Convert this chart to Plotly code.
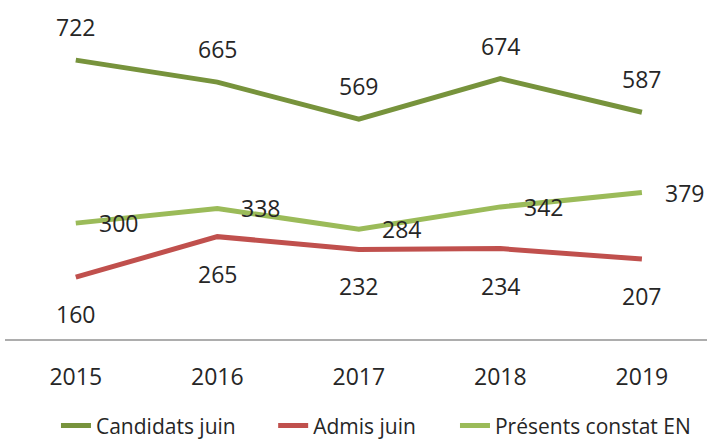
import plotly.graph_objects as go

# Données
annees = ['2015', '2016', '2017', '2018', '2019']
candidats_juin = [722, 665, 569, 674, 587]
admis_juin = [160, 265, 232, 234, 207]
presents_constat = [300, 338, 284, 342, 379]

COLOR_CANDIDATS = '#77933C'
COLOR_ADMIS = '#C0504D'
COLOR_PRESENTS = '#9BBB59'
FONT = 'Open Sans'

# positions numériques des catégories (évite l'axe linéaire auto sur "2015"...)
pos = list(range(len(annees)))

fig = go.Figure()

# nom, valeurs, couleur, décalage étiquette (x, y), légende, position x légende
series = [
    ('Candidats juin', candidats_juin, COLOR_CANDIDATS, 0, 33, 'legend', 0.0726),
    ('Admis juin', admis_juin, COLOR_ADMIS, 0, -37, 'legend2', 0.382),
    ('Présents constat EN', presents_constat, COLOR_PRESENTS, 43, 0, 'legend3', 0.641),
]

legend_style = dict(
    orientation='h', yref='container', y=0.03, yanchor='middle', xanchor='left',
    bgcolor='rgba(0,0,0,0)',
    font=dict(family=FONT, size=21, color='#262626'),
)

for name, values, color, dx, dy, leg, lx in series:
    fig.add_trace(go.Scatter(
        x=pos, y=values, name=name, mode='lines',
        line=dict(color=color, width=5), legend=leg,
    ))
    fig.update_layout({leg: dict(legend_style, x=lx)})
    # étiquettes de données
    for p, v in zip(pos, values):
        fig.add_annotation(
            x=p, y=v, xref='x', yref='y', text=str(v), showarrow=False,
            xshift=dx, yshift=dy,
            font=dict(family=FONT, size=23, color='#262626'),
        )

fig.update_layout(
    width=707, height=439,
    margin=dict(l=5, r=0, t=30, b=100),
    plot_bgcolor='white', paper_bgcolor='white',
    showlegend=True,
    xaxis=dict(
        range=[-0.5, 4.46], showgrid=False, zeroline=False,
        tickmode='array', tickvals=pos, ticktext=annees,
        showline=True, linecolor='#ADADAD', linewidth=2,
        ticks='', ticklabelstandoff=16,
        tickfont=dict(family=FONT, size=23, color='#262626'),
    ),
    yaxis=dict(range=[0, 800], visible=False),
)

# pas de marge du body pour que la figure occupe exactement la fenêtre
fig.write_html(
    "out.html",
    config={'displayModeBar': False},
    post_script="document.body.style.margin='0';document.body.style.overflow='hidden';",
)
